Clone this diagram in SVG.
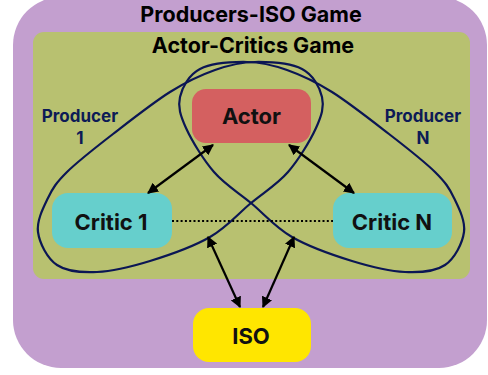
<svg xmlns="http://www.w3.org/2000/svg" xmlns:xlink="http://www.w3.org/1999/xlink" width="488" height="375" viewBox="0 0 488 375">
  <style>
    .title { font-family: Inter, "Liberation Sans", sans-serif; font-weight: 700; font-size: 21.5px; fill: #000; text-anchor: middle; }
    .node { font-family: Inter, "Liberation Sans", sans-serif; font-weight: 700; font-size: 22px; fill: #111; text-anchor: middle; }
    .prodlabel { font-family: Inter, "Liberation Sans", sans-serif; font-weight: 700; font-size: 17px; fill: #0d1b56; text-anchor: middle; }
    .prod { fill: none; stroke: #0b1654; stroke-width: 2.2; }
    .arrow { stroke: #000; stroke-width: 2.2; fill: none; marker-start: url(#ah); marker-end: url(#ah); }
    .dotted { stroke: #000; stroke-width: 2.2; stroke-dasharray: 2 2.3; fill: none; }
  </style>
  <defs>
    <marker id="ah" viewBox="0 0 10 10" refX="9" refY="5" markerWidth="11" markerHeight="11" markerUnits="userSpaceOnUse" orient="auto-start-reverse">
      <path d="M0,0 L10,5 L0,10 Z" fill="#000"/>
    </marker>
    <path id="egg" d="M255,62 C269.5,61.8 290.8,63.2 302,69 C313.2,74.8 319.7,87.2 322,97 C324.3,106.8 321.7,115.5 316,128 C310.3,140.5 298.8,159.5 288,172 C277.2,184.5 264,192.2 251,203 C238,213.8 226.8,227.3 210,237 C193.2,246.7 168.8,255.2 150,261 C131.2,266.8 112.5,271.3 97,272 C81.5,272.7 66.8,271.7 57,265 C47.2,258.3 39.5,243.2 38,232 C36.5,220.8 43.2,208 48,198 C52.8,188 56.2,182.7 67,172 C77.8,161.3 95.8,147.3 113,134 C130.2,120.7 153,102.7 170,92 C187,81.3 200.8,75 215,70 C229.2,65 240.5,62.2 255,62 Z"/>
  </defs>

  <g id="producers-iso-game">
    <rect x="13" y="-3" width="474" height="371" rx="48" fill="#c39fcf"/>
    <text class="title" x="251" y="22">Producers-ISO Game</text>
  </g>

  <g id="actor-critics-game">
    <rect x="33" y="32" width="437" height="247" rx="11" fill="#b8c170"/>
    <text class="title" x="253" y="52.5">Actor-Critics Game</text>
  </g>

  <g id="actor">
    <rect x="192" y="89" width="119" height="54" rx="14" fill="#d46060"/>
    <text class="node" x="251.5" y="124">Actor</text>
  </g>

  <g id="critic-1">
    <rect x="52" y="193" width="120" height="55" rx="16" fill="#66cfcc"/>
    <text class="node" x="111" y="229.5">Critic 1</text>
  </g>

  <g id="critic-n">
    <rect x="333" y="193" width="119" height="55" rx="16" fill="#66cfcc"/>
    <text class="node" x="392" y="229.5">Critic N</text>
  </g>

  <g id="iso">
    <rect x="193" y="308" width="118" height="54" rx="16" fill="#ffe600"/>
    <text class="node" x="251" y="343.5">ISO</text>
  </g>

  <g id="producer-1">
    <use xlink:href="#egg" class="prod"/>
    <text class="prodlabel" x="80" y="122">Producer</text>
    <text class="prodlabel" x="80" y="144">1</text>
  </g>

  <g id="producer-n">
    <use xlink:href="#egg" class="prod" transform="translate(502,0) scale(-1,1)"/>
    <text class="prodlabel" x="423" y="122">Producer</text>
    <text class="prodlabel" x="423" y="144">N</text>
  </g>

  <g id="connectors">
    <line class="arrow" x1="213" y1="145" x2="148" y2="193"/>
    <line class="arrow" x1="289" y1="145" x2="354" y2="193"/>
    <line class="arrow" x1="208" y1="237" x2="240" y2="307"/>
    <line class="arrow" x1="294" y1="237" x2="263" y2="307"/>
    <line class="dotted" x1="172" y1="221" x2="333" y2="221"/>
  </g>
</svg>
